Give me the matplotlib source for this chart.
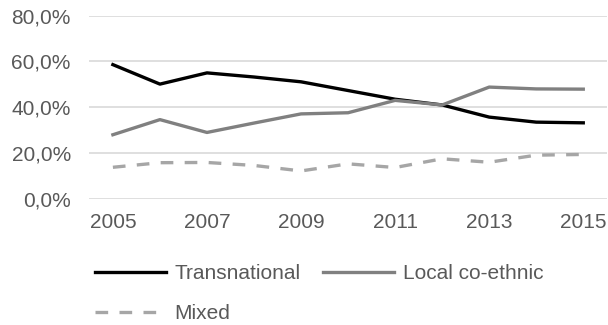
import matplotlib
matplotlib.use("Agg")
import matplotlib.pyplot as plt
from matplotlib.ticker import FuncFormatter, MultipleLocator

plt.rcParams['font.family'] = ['Liberation Sans', 'DejaVu Sans']

years = list(range(2005, 2016))
transnational = [58.6, 50.1, 55.0, 53.2, 51.1, 47.3, 43.5, 41.0, 35.7, 33.5, 33.2]
local_coethnic = [28.0, 34.6, 29.0, 33.1, 37.1, 37.6, 43.0, 41.0, 48.8, 48.0, 47.9]
mixed = [13.8, 15.8, 15.9, 14.6, 12.2, 15.3, 13.7, 17.5, 16.0, 19.1, 19.4]
x_ticks = [2005, 2007, 2009, 2011, 2013, 2015]

text_color = '#595959'

fig = plt.figure(figsize=(6.08, 3.25), dpi=100)
ax = fig.add_axes([0.147, 0.388, 0.851, 0.564])

h_t, = ax.plot(years, transnational, color='black', lw=2.4, label='Transnational')
h_l, = ax.plot(years, local_coethnic, color='#808080', lw=2.4, label='Local co-ethnic')
h_m, = ax.plot(years, mixed, color='#a6a6a6', lw=2.4, linestyle=(0, (3.8, 3.4)), label='Mixed')

ax.set_xlim(2004.5, 2015.5)
ax.set_ylim(0, 80)
ax.yaxis.set_major_locator(MultipleLocator(20))
ax.yaxis.set_major_formatter(FuncFormatter(lambda v, p: f"{v:.1f}%".replace('.', ',')))
ax.set_xticks(x_ticks)
ax.grid(axis='y', color='#d9d9d9', lw=1.2)
ax.set_axisbelow(True)
for s in ax.spines.values():
    s.set_visible(False)
ax.tick_params(axis='both', length=0, labelsize=15, labelcolor=text_color)
ax.tick_params(axis='y', pad=13.4)
ax.tick_params(axis='x', pad=10)

# column-major fill: first column gets Transnational and Mixed
handles = [h_t, h_m, h_l]
leg = fig.legend(handles, [h.get_label() for h in handles],
                 loc='upper left', bbox_to_anchor=(0.156, 0.187), ncol=2, frameon=False,
                 fontsize=15, handlelength=3.4, handletextpad=0.43, columnspacing=1.06,
                 labelspacing=1.0, borderaxespad=0, borderpad=0)
for t in leg.get_texts():
    t.set_color(text_color)

fig.savefig('out.png', dpi=100)
